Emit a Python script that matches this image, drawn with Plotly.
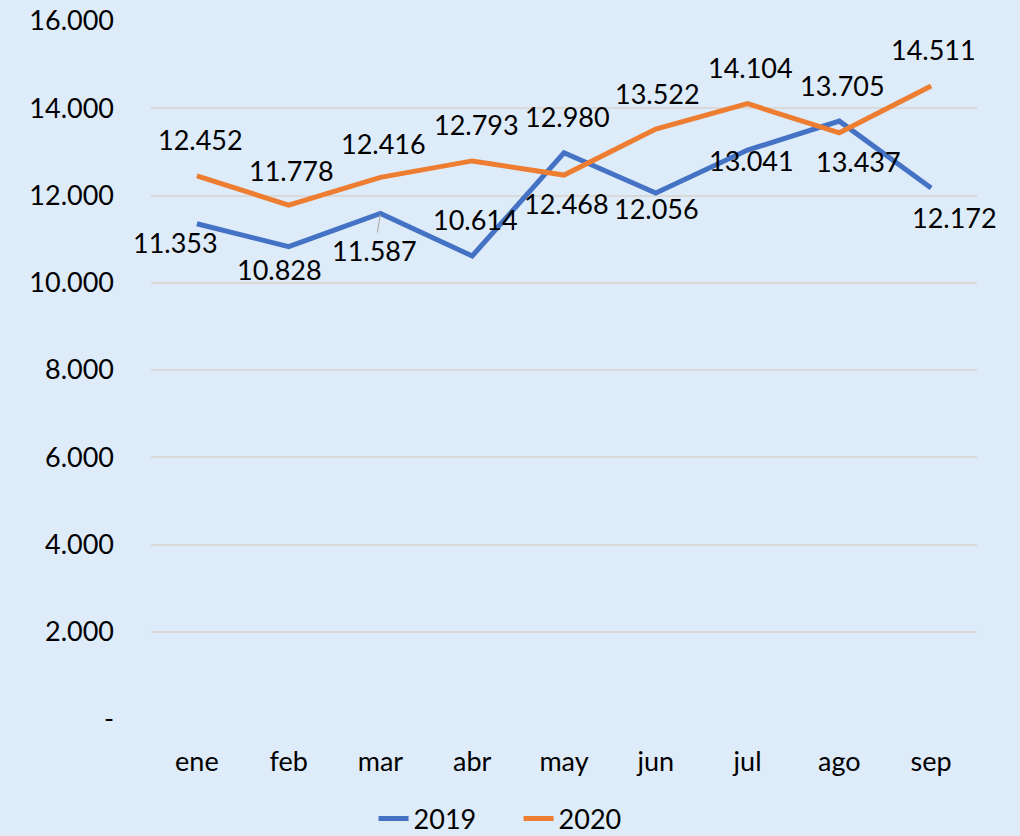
import plotly.graph_objects as go

# ---- data ----
months = ["ene", "feb", "mar", "abr", "may", "jun", "jul", "ago", "sep"]
values_2019 = [11353, 10828, 11587, 10614, 12980, 12056, 13041, 13705, 12172]
values_2020 = [12452, 11778, 12416, 12793, 12468, 13522, 14104, 13437, 14511]
y_tickvals = [0, 2000, 4000, 6000, 8000, 10000, 12000, 14000, 16000]
y_ticktext = ["-", "2.000", "4.000", "6.000", "8.000", "10.000", "12.000", "14.000", "16.000"]

# ---- label placement offsets (px; dx right, dy down) ----
off_2019 = [(-21, 19), (-9, 23), (-6, 37), (3, -36), (3, -36), (1, 15), (4, 10), (3, -36), (23, 29)]
off_2020 = [(4, -36), (3, -35), (3, -34), (4, -36), (2, 28), (2, -36), (3, -36), (19, 29), (2, -36)]

BLUE = "#4472C4"
ORANGE = "#ED7D31"
BG = "#DEEBF8"
FONT = "Lato, 'Open Sans', sans-serif"
FS = 27


def fmt(v):
    return f"{v:,}".replace(",", ".")


fig = go.Figure()
fig.add_trace(go.Scatter(x=months, y=values_2019, name="2019", mode="lines",
                         line=dict(color=BLUE, width=5)))
fig.add_trace(go.Scatter(x=months, y=values_2020, name="2020", mode="lines",
                         line=dict(color=ORANGE, width=5)))

annotations = []
for vals, offs in ((values_2019, off_2019), (values_2020, off_2020)):
    for i, (m, v) in enumerate(zip(months, vals)):
        dx, dy = offs[i]
        if vals is values_2019 and m == "mar":
            annotations.append(dict(x=m, y=v, xref="x", yref="y", text=fmt(v),
                                    showarrow=True, arrowhead=0, arrowwidth=1,
                                    arrowcolor="#A6A6A6", ax=dx, ay=dy, standoff=1,
                                    font=dict(family=FONT, size=FS, color="#000000")))
        else:
            annotations.append(dict(x=m, y=v, xref="x", yref="y", text=fmt(v),
                                    showarrow=False, xshift=dx, yshift=-dy,
                                    font=dict(family=FONT, size=FS, color="#000000")))

fig.update_layout(
    width=1020, height=836,
    paper_bgcolor=BG, plot_bgcolor=BG,
    margin=dict(l=151, r=43, t=21, b=117, autoexpand=False),
    font=dict(family=FONT, size=FS, color="#000000"),
    showlegend=True,
    legend=dict(orientation="h", xref="paper", yref="paper",
                x=0.445, xanchor="center", y=-0.1433, yanchor="middle",
                font=dict(family=FONT, size=FS, color="#000000"),
                bgcolor="rgba(0,0,0,0)", entrywidth=100, tracegroupgap=0,
                borderwidth=0),
    xaxis=dict(range=[-0.5, 8.5], showgrid=False, zeroline=False, showline=False,
               ticks="", ticklabelstandoff=24, automargin=False,
               tickfont=dict(family=FONT, size=FS, color="#000000")),
    yaxis=dict(range=[0, 16000], tickvals=y_tickvals, ticktext=y_ticktext,
               showgrid=True, gridcolor="#D9D9D9", gridwidth=1.5, automargin=False,
               zeroline=False, showline=False, ticks="", ticklabelstandoff=36,
               tickfont=dict(family=FONT, size=FS, color="#000000")),
    annotations=annotations,
)

fig.write_html("out.html", config={"displayModeBar": False},
               post_script="document.body.style.margin='0';document.body.style.background='" + BG + "';")
